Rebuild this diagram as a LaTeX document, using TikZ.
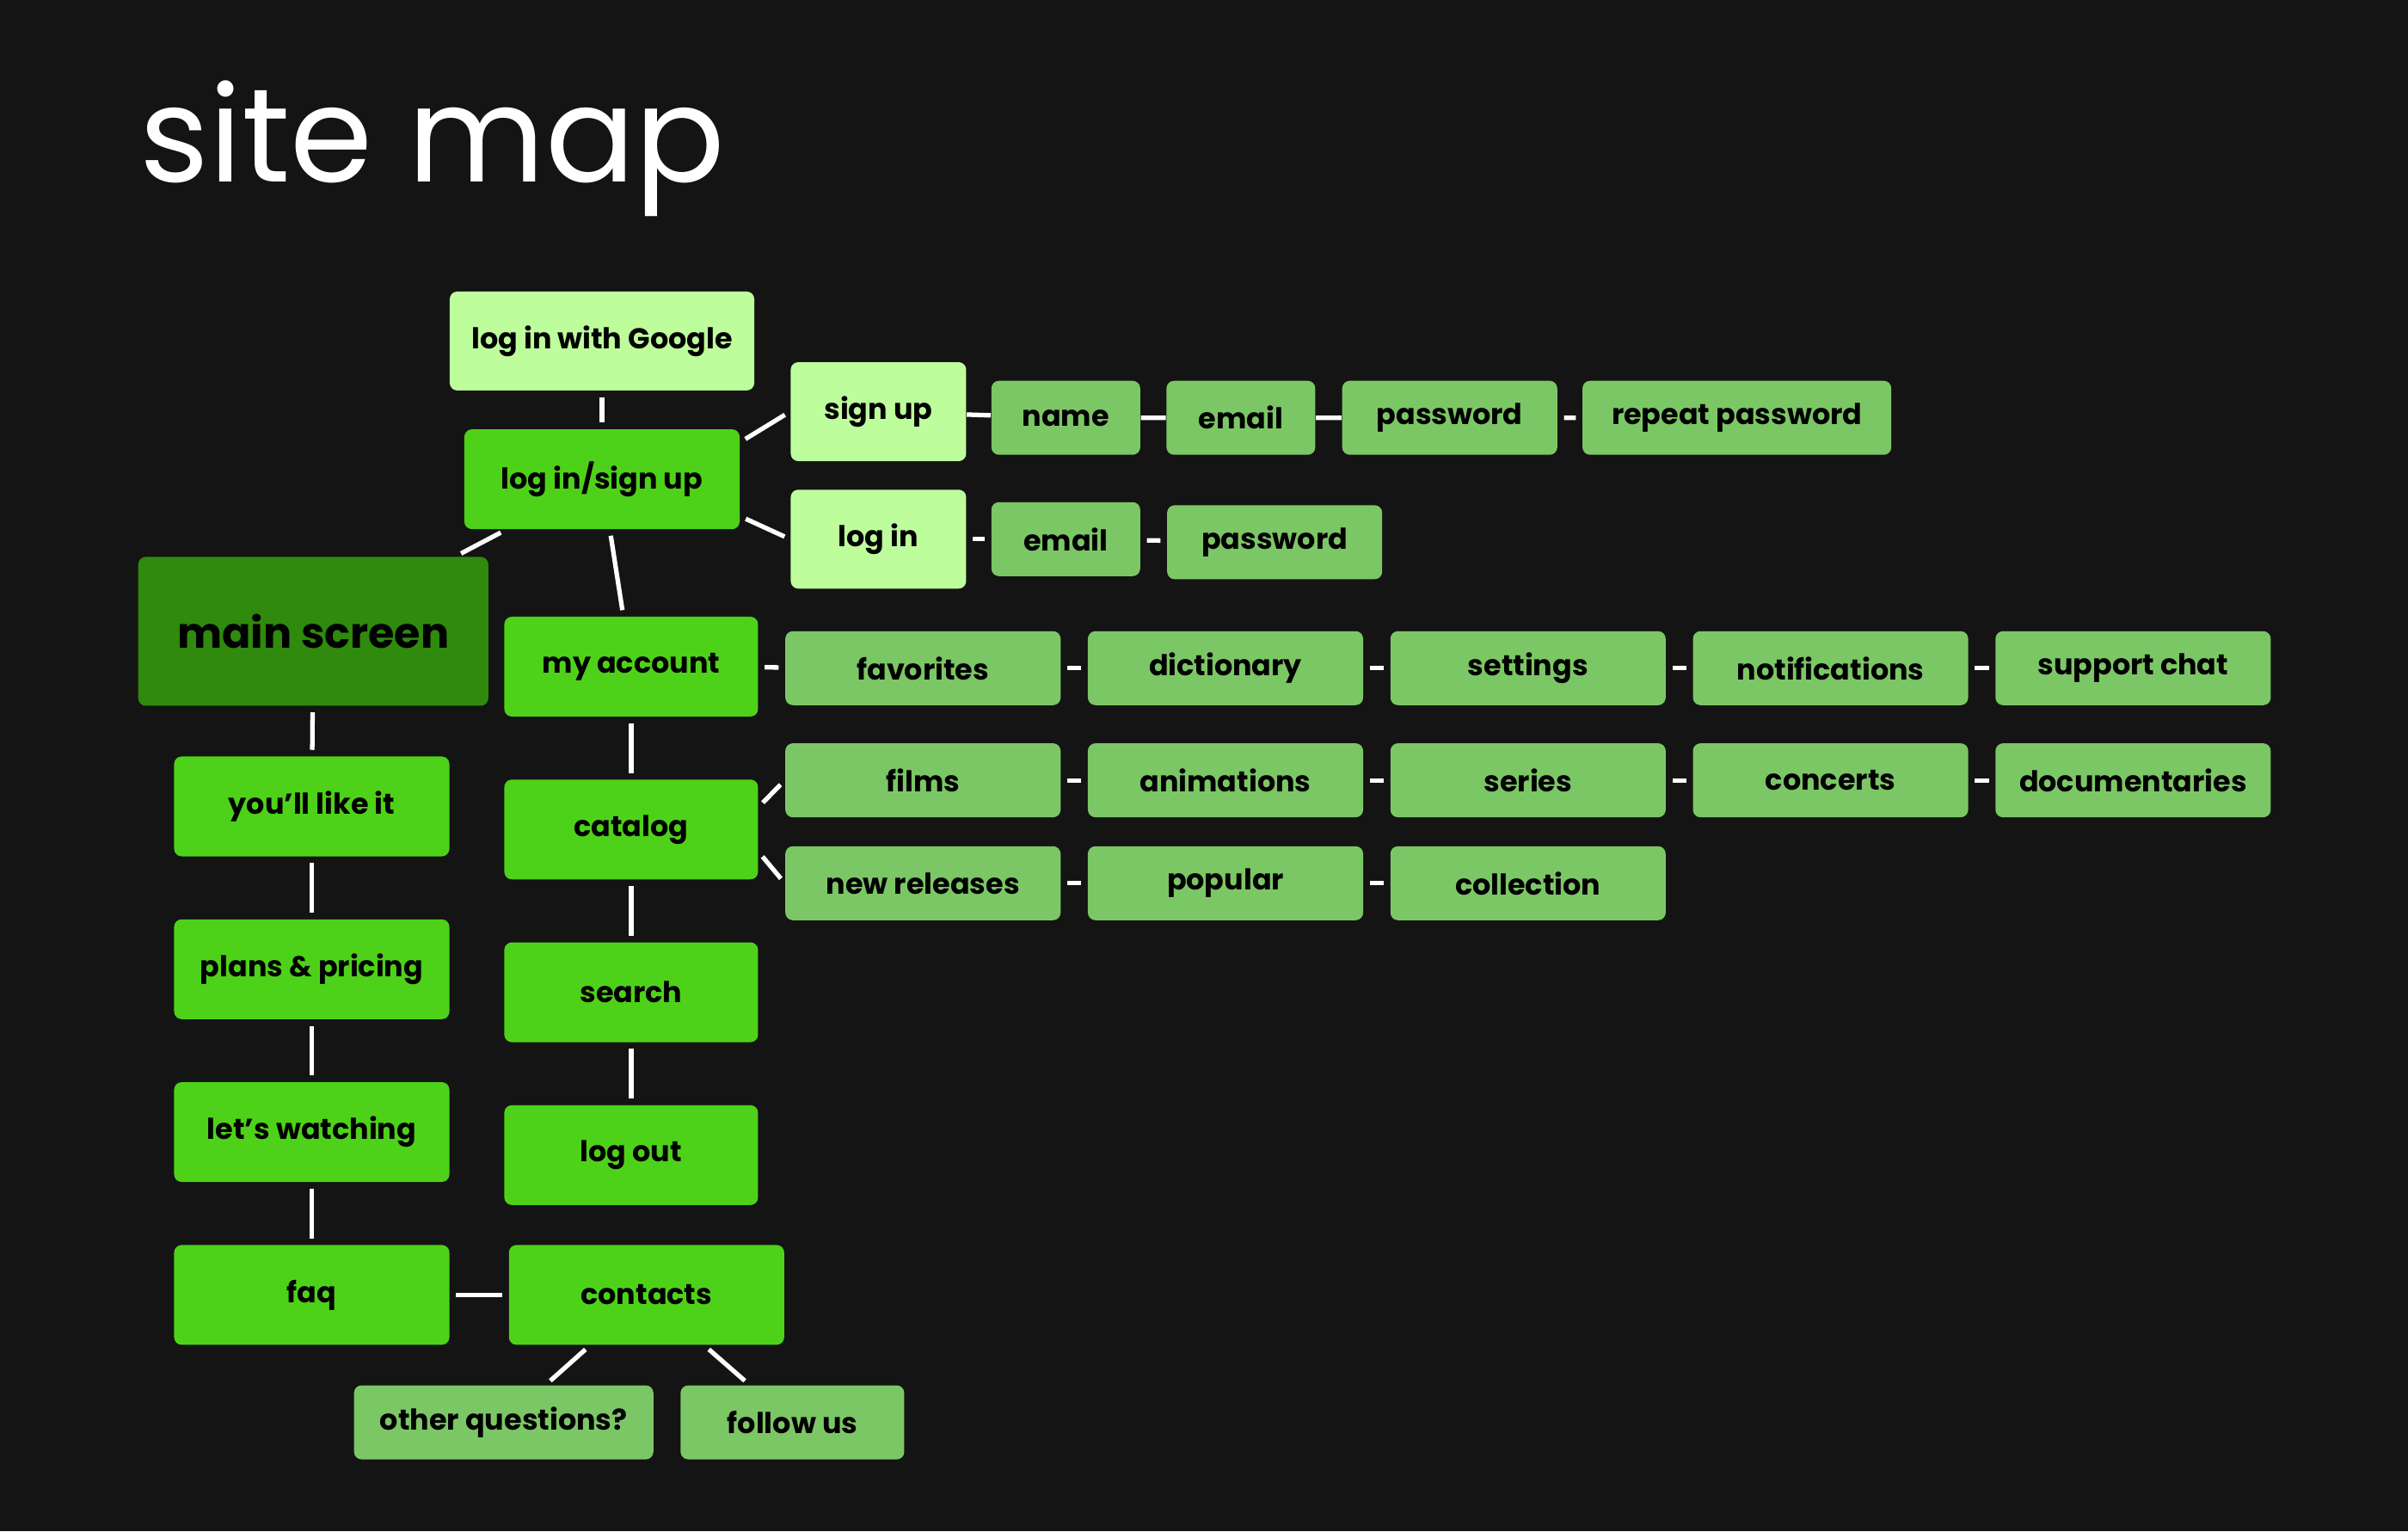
\documentclass[tikz,border=0pt]{standalone}
\usepackage{fontspec}
\setmainfont{Poppins}
\usepackage{tikz}
\definecolor{bgc}{HTML}{141414}
\definecolor{darkg}{HTML}{2F8A0E}
\definecolor{brightg}{HTML}{4ED219}
\definecolor{lightg}{HTML}{BEFD9C}
\definecolor{mutedg}{HTML}{7CC765}
\begin{document}
\begin{tikzpicture}
        [%%%%%%%%%%%%%%%%%%%%%%%%%%%%%%
        x=0.01786cm, y=-0.01786cm,
        box/.style={rectangle, rounded corners=2.5pt, inner sep=0pt,
          font=\bfseries\fontsize{9.5}{11}\selectfont, text=black},
        bright/.style={box, fill=brightg, minimum width=3.2cm, minimum height=1.16cm},
        light/.style={box, fill=lightg, minimum height=1.15cm},
        muted/.style={box, fill=mutedg, minimum height=0.86cm},
        link/.style={draw=white, line width=1.5pt, shorten >=2pt, shorten <=2pt},
        ]%%%%%%%%%%%%%%%%%%%%%%%%%%%%%%
        \fill[bgc] (0,0) rectangle (1568,997);
        \useasboundingbox (0,0) rectangle (1568,997);
        % Title
        \node[text=white, anchor=west, font=\fontsize{44}{50}\selectfont] (title) at (84,97) {site map};
        % Log in branch
        \node[light, minimum width=3.54cm] (google) at (392,222) {log in with Google};
        \node[bright, minimum width=3.2cm] (logsign) at (392,312) {log in/sign up};
        \node[light, minimum width=2.04cm] (signup) at (572,268) {sign up};
        \node[light, minimum width=2.04cm] (login) at (572,351) {log in};
        \node[muted, minimum width=1.73cm] (name) at (694,272) {name};
        \node[muted, minimum width=1.73cm] (emailA) at (808,272) {email};
        \node[muted, minimum width=2.5cm] (passA) at (944,272) {password};
        \node[muted, minimum width=3.59cm] (repeat) at (1131,272) {repeat password};
        \node[muted, minimum width=1.73cm] (emailB) at (694,351) {email};
        \node[muted, minimum width=2.5cm] (passB) at (830,353) {password};
        % Main column
        \node[box, fill=darkg, minimum width=4.07cm, minimum height=1.73cm,
          font=\bfseries\fontsize{14}{16}\selectfont] (main) at (204,411) {main screen};
        \node[bright] (like) at (203,525) {you'll like it};
        \node[bright] (plans) at (203,631) {plans \& pricing};
        \node[bright] (watch) at (203,737) {let's watching};
        \node[bright] (faq) at (203,843) {faq};
        \node[bright] (contacts) at (421,843) {contacts};
        \node[muted, minimum width=3.48cm] (other) at (328,926) {other questions?};
        \node[muted, minimum width=2.6cm] (follow) at (516,926) {follow us};
        % Account column
        \node[bright, minimum width=2.95cm] (account) at (411,434) {my account};
        \node[bright, minimum width=2.95cm] (catalog) at (411,540) {catalog};
        \node[bright, minimum width=2.95cm] (search) at (411,646) {search};
        \node[bright, minimum width=2.95cm] (logout) at (411,752) {log out};
        % Rows
        \foreach \name/\txt [count=\i] in {fav/favorites, dict/dictionary, sett/settings, noti/notifications, chat/support chat}
          \node[muted, minimum width=3.2cm] (\name) at (601+197*\i-197,435) {\txt};
        \foreach \name/\txt [count=\i] in {films/films, anim/animations, series/series, conc/concerts, docs/documentaries}
          \node[muted, minimum width=3.2cm] (\name) at (601+197*\i-197,508) {\txt};
        \foreach \name/\txt [count=\i] in {newrel/new releases, pop/popular, coll/collection}
          \node[muted, minimum width=3.2cm] (\name) at (601+197*\i-197,575) {\txt};
        % Lines
        \draw[link] (google) -- (logsign);
        \draw[link] (logsign.15) -- (signup.west);
        \draw[link] (logsign.-15) -- (login.west);
        \draw[link] (signup) -- (name) -- (emailA) -- (passA) -- (repeat);
        \draw[link] (login) -- (emailB);
        \draw[link] (emailB) -- (passB);
        \draw[link] (logsign) -- (main);
        \draw[link] (logsign) -- (account);
        \draw[link] (main) -- (like);
        \draw[link] (like) -- (plans);
        \draw[link] (plans) -- (watch);
        \draw[link] (watch) -- (faq);
        \draw[link] (faq) -- (contacts);
        \draw[link] (contacts) -- (other);
        \draw[link] (contacts) -- (follow);
        \draw[link] (account) -- (catalog);
        \draw[link] (catalog) -- (search);
        \draw[link] (search) -- (logout);
        \draw[link] (account) -- (fav);
        \draw[link] (catalog.10) -- (films.west);
        \draw[link] (catalog.-10) -- (newrel.west);
        \foreach \a/\b in {fav/dict, dict/sett, sett/noti, noti/chat, films/anim, anim/series, series/conc, conc/docs, newrel/pop, pop/coll}
          \draw[link] (\a) -- (\b);
\end{tikzpicture}
\end{document}
